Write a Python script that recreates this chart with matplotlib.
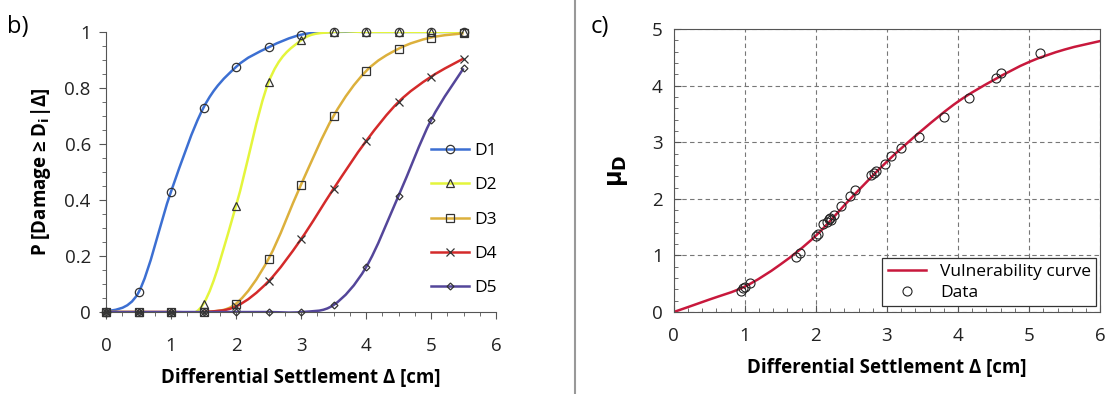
import numpy as np
import matplotlib
matplotlib.use('Agg')
import matplotlib.pyplot as plt
from matplotlib.path import Path
from matplotlib.patches import PathPatch
from matplotlib.lines import Line2D
from matplotlib.ticker import MultipleLocator

plt.rcParams['font.family'] = ['Open Sans', 'DejaVu Sans']
plt.rcParams['mathtext.fontset'] = 'dejavusans'

# panel b) fragility curves
settlement = [0, 0.5, 1, 1.5, 2, 2.5, 3, 3.5, 4, 4.5, 5, 5.5]
d1 = [0, 0.07, 0.43, 0.73, 0.875, 0.945, 0.99, 1, 1, 1, 1, 1]
d2 = [0, 0, 0, 0.03, 0.38, 0.82, 0.97, 1, 1, 1, 1, 1]
d3 = [0, 0, 0, 0, 0.03, 0.19, 0.455, 0.70, 0.86, 0.94, 0.98, 0.995]
d4 = [0, 0, 0, 0, 0.02, 0.11, 0.26, 0.44, 0.61, 0.75, 0.84, 0.905]
d5 = [0, 0, 0, 0, 0, 0, 0, 0.025, 0.16, 0.415, 0.685, 0.87]
damage_names = ['D1', 'D2', 'D3', 'D4', 'D5']

# panel c) vulnerability curve + data
curve_x = [0, 0.5, 1, 1.5, 2, 2.5, 3, 3.5, 4, 4.5, 5, 5.5, 6]
curve_y = [0, 0.22, 0.45, 0.84, 1.35, 2.02, 2.66, 3.22, 3.72, 4.1, 4.42, 4.64, 4.79]
data_x = [0.95, 0.98, 1.0, 1.08, 1.72, 1.78, 2.0, 2.03, 2.1, 2.15, 2.18, 2.2, 2.22,
          2.25, 2.35, 2.48, 2.55, 2.77, 2.82, 2.85, 2.97, 3.05, 3.2, 3.45, 3.8,
          4.15, 4.53, 4.6, 5.15]
data_y = [0.38, 0.42, 0.44, 0.52, 0.98, 1.04, 1.35, 1.38, 1.55, 1.6, 1.65, 1.67, 1.63,
          1.72, 1.88, 2.05, 2.15, 2.42, 2.45, 2.5, 2.62, 2.75, 2.9, 3.1, 3.45,
          3.78, 4.13, 4.22, 4.58]


def smooth_path(x, y):
    # excel-like smoothed line: cubic bezier with catmull-rom control points
    x = np.asarray(x, float)
    y = np.asarray(y, float)
    verts = [(x[0], y[0])]
    codes = [Path.MOVETO]
    n = len(x)
    for i in range(n - 1):
        p0 = np.array([x[max(i - 1, 0)], y[max(i - 1, 0)]])
        p1 = np.array([x[i], y[i]])
        p2 = np.array([x[i + 1], y[i + 1]])
        p3 = np.array([x[min(i + 2, n - 1)], y[min(i + 2, n - 1)]])
        c1 = p1 + (p2 - p0) / 6
        c2 = p2 - (p3 - p1) / 6
        verts += [tuple(c1), tuple(c2), tuple(p2)]
        codes += [Path.CURVE4] * 3
    return Path(verts, codes)


fig = plt.figure(figsize=(11.08, 3.94), dpi=100)

# ---- panel b
ax1 = fig.add_axes([0.0957, 0.208, 0.352, 0.711])
colors = ['#3c6fd2', '#e4f53c', '#dcb03c', '#d42a2a', '#54469a']
markers = ['o', '^', 's', 'x', 'D']
msizes = [6, 6, 6, 6, 3.5]
series = [d1, d2, d3, d4, d5]
handles = []
for s, c, m, ms, name in zip(series, colors, markers, msizes, damage_names):
    ax1.add_patch(PathPatch(smooth_path(settlement, s), fill=False, edgecolor=c, lw=1.8, zorder=2))
    ax1.plot(settlement, s, ls='none', marker=m, ms=ms, mfc='none', mec='#333333', mew=0.9,
             zorder=3, clip_on=False)
    handles.append(Line2D([], [], color=c, lw=1.8, marker=m, ms=ms, mfc='none',
                          mec='#333333', mew=0.9, label=name))
ax1.set_xlim(0, 6)
ax1.set_ylim(0, 1)
ax1.spines['top'].set_visible(False)
ax1.spines['right'].set_visible(False)
ax1.spines['bottom'].set_color('#555555')
ax1.spines['left'].set_color('#555555')
ax1.xaxis.set_major_locator(MultipleLocator(1))
ax1.xaxis.set_minor_locator(MultipleLocator(0.25))
ax1.yaxis.set_major_locator(MultipleLocator(0.2))
ax1.yaxis.set_minor_locator(MultipleLocator(0.05))
ax1.set_yticks([0, 0.2, 0.4, 0.6, 0.8, 1], ['0', '0.2', '0.4', '0.6', '0.8', '1'])
ax1.tick_params(which='both', direction='out', colors='#555555', labelcolor='#222222',
                labelsize=13.5)
ax1.tick_params(which='major', length=5)
ax1.tick_params(which='minor', length=3)
ax1.tick_params(axis='x', pad=13)
ax1.tick_params(axis='y', pad=6)
ax1.set_xlabel('Differential Settlement Δ [cm]', fontsize=13.5, fontweight='bold', labelpad=9)
ax1.set_ylabel('P [Damage ≥ D$_\\mathbf{i}$|Δ]', fontsize=13.5, fontweight='bold', labelpad=8)
ax1.legend(handles=handles, loc='center right', bbox_to_anchor=(1.02, 0.33), frameon=False,
           fontsize=12.5, handlelength=2.2, labelspacing=1.05, handletextpad=0.3,
           borderaxespad=0)
fig.text(0.006, 0.915, 'b)', fontsize=17)

# ---- panel c
ax2 = fig.add_axes([0.608, 0.208, 0.385, 0.718])
ax2.add_patch(PathPatch(smooth_path(curve_x, curve_y), fill=False, edgecolor='#c8183c', lw=1.8,
                        zorder=2))
ax2.plot(data_x, data_y, ls='none', marker='o', ms=6.5, mfc='none', mec='#222222', mew=0.8,
         zorder=3)
ax2.set_xlim(0, 6)
ax2.set_ylim(0, 5)
ax2.xaxis.set_major_locator(MultipleLocator(1))
ax2.xaxis.set_minor_locator(MultipleLocator(0.2))
ax2.yaxis.set_major_locator(MultipleLocator(1))
ax2.yaxis.set_minor_locator(MultipleLocator(0.2))
ax2.grid(True, which='major', ls=(0, (4, 3)), color='#777777', lw=0.8)
for sp in ax2.spines.values():
    sp.set_color('#555555')
ax2.tick_params(which='both', direction='in', colors='#555555', labelcolor='#222222',
                labelsize=13.5)
ax2.tick_params(which='major', length=5)
ax2.tick_params(which='minor', length=3)
ax2.tick_params(axis='x', pad=11)
ax2.tick_params(axis='y', pad=8)
ax2.set_xlabel('Differential Settlement Δ [cm]', fontsize=13.5, fontweight='bold', labelpad=9)
ax2.set_ylabel('μ$_\\mathbf{D}$', fontsize=18, fontweight='bold', labelpad=16)
leg_handles = [Line2D([], [], color='#c8183c', lw=1.8, label='Vulnerability curve'),
               Line2D([], [], ls='none', marker='o', ms=6.5, mfc='none', mec='#222222',
                      mew=0.8, label='Data')]
leg = ax2.legend(handles=leg_handles, loc='lower right', bbox_to_anchor=(0.99, 0.02),
                 fontsize=12.5, fancybox=False, edgecolor='#333333', framealpha=1,
                 handlelength=2.2, borderaxespad=0, labelspacing=0.3, borderpad=0.3)
leg.get_frame().set_linewidth(0.9)
fig.text(0.533, 0.915, 'c)', fontsize=17)

# divider between panels
fig.add_artist(Line2D([0.519, 0.519], [0.0, 1.0], color='#999999', lw=1.5))

plt.savefig('out.png', dpi=100)
plt.close()
